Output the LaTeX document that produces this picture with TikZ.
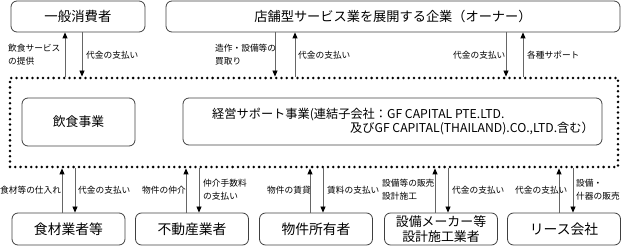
\documentclass[tikz,border=0pt]{standalone}
\usepackage{fontspec}
\setmainfont{Noto Sans CJK JP}
\usetikzlibrary{arrows.meta,positioning,calc}

\begin{document}
\begin{tikzpicture}[x=1pt,y=-1pt,
  box/.style={draw=black!75,line width=0.8pt,rounded corners=6pt,inner sep=0pt},
  lbl/.style={font=\fontsize{8.7}{13}\selectfont,align=left,inner sep=0pt,anchor=west},
  arr/.style={draw=black!60,line width=0.8pt,-{Triangle[length=6pt,width=5pt,black]}},
  frm/.style={draw,line width=2.8pt,dash pattern=on 0pt off 5.3pt,line cap=round,inner sep=0pt}]
  \useasboundingbox (0,0) rectangle (625,246);
  % top row
  \node[box,minimum width=134,minimum height=31,font=\fontsize{13.4}{16}\selectfont] (con) at (78,16.5) {一般消費者};
  \node[box,minimum width=454,minimum height=31,font=\fontsize{13.2}{16}\selectfont] (own) at (393,16.5) {店舗型サービス業を展開する企業（オーナー）};
  % dotted frame with the two businesses
  \node[frm,minimum width=608,minimum height=89] (frame) at (314,122.5) {};
  \node[box,minimum width=113,minimum height=48,font=\fontsize{12.8}{15}\selectfont] (eat) at (78.5,122) {飲食事業};
  \node[box,minimum width=419,minimum height=47] (sup) at (392.5,121.5) {};
  \node[inner sep=0pt,anchor=west,font=\fontsize{12.2}{13}\selectfont] (sup1) at (212,115) {経営サポート事業(連結子会社：GF CAPITAL PTE.LTD.};
  \node[inner sep=0pt,anchor=west,font=\fontsize{12.2}{13}\selectfont] (sup2) at (350,128) {及びGF CAPITAL(THAILAND).CO.,LTD.含む）};
  % bottom row
  \foreach \n/\x/\t in {food/68.5/食材業者等, real/192/不動産業者, prop/316/物件所有者, lease/564/リース会社}
    \node[box,minimum width=113,minimum height=32,font=\fontsize{13.8}{16}\selectfont] (\n) at (\x,229) {\t};
  \node[box,minimum width=113,minimum height=32,align=center,font=\fontsize{12.9}{15}\selectfont] (equip) at (441,229) {設備メーカー等\\設計施工業者};
  % arrows
  \foreach \b/\d/\u in {con/4/-13, own/-118/-98, own/113/130}{
    \draw[arr] ([xshift=\d pt]\b.south) -- ([xshift=\d pt]\b.south |- frame.north);
    \draw[arr] ([xshift=\u pt]\b.south |- frame.north) -- ([xshift=\u pt]\b.south);
  }
  \foreach \b/\u/\d in {food/-6.5/6.5, real/-6/7, prop/-6/7, equip/-6/7, lease/-5/9}{
    \draw[arr] ([xshift=\u pt]\b.north) -- ([xshift=\u pt]\b.north |- frame.south);
    \draw[arr] ([xshift=\d pt]\b.north |- frame.south) -- ([xshift=\d pt]\b.north);
  }
  % labels
  \node[lbl] (t1) at (8,55) {飲食サービス\\の提供};
  \node[lbl] (t2) at (86,55) {代金の支払い};
  \node[lbl] (t3) at (215,55) {造作・設備等の\\買取り};
  \node[lbl] (t4) at (298,55) {代金の支払い};
  \node[lbl] (t5) at (453,55) {代金の支払い};
  \node[lbl] (t6) at (527,55) {各種サポート};
  \node[lbl] (b1) at (0,190) {食材等の仕入れ};
  \node[lbl] (b2) at (78,190) {代金の支払い};
  \node[lbl] (b3) at (142,190) {物件の仲介};
  \node[lbl] (b4) at (203,190) {仲介手数料\\の支払い};
  \node[lbl] (b5) at (267,190) {物件の賃貸};
  \node[lbl] (b6) at (327,190) {賃料の支払い};
  \node[lbl] (b7) at (382,190) {設備等の販売\\設計施工};
  \node[lbl] (b8) at (452,190) {代金の支払い};
  \node[lbl] (b9) at (515,190) {代金の支払い};
  \node[lbl] (b10) at (576,190) {設備・\\什器の販売};
\end{tikzpicture}
\end{document}
